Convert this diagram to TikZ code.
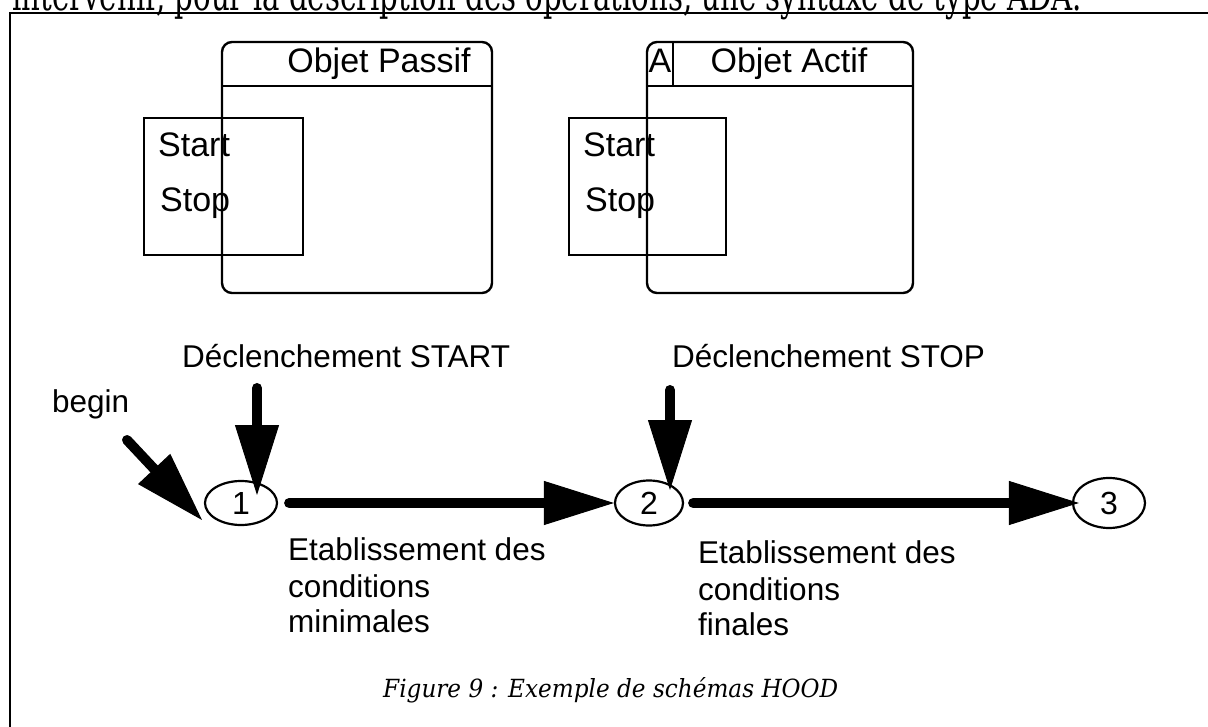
\documentclass[tikz,border=0pt]{standalone}
\usepackage{fontspec}
\usepackage{graphicx}
\usetikzlibrary{arrows.meta,shapes.geometric}
\newfontfamily\cadfont{Liberation Sans}
\newfontfamily\docserif{DejaVu Serif}
\tikzset{
  box/.style={draw, line width=2.4pt, inner sep=0pt},
  objbox/.style={box, rounded corners=10pt},
  sepline/.style={line width=2.4pt},
  lbl/.style={font=\cadfont\fontsize{31.5}{36}\selectfont, inner sep=0pt, anchor=base west},
  biglbl/.style={font=\cadfont\fontsize{34}{40}\selectfont, inner sep=0pt, anchor=base},
  bigleft/.style={biglbl, anchor=base west},
  state/.style={draw, ellipse, line width=2.2pt, inner sep=0pt, font=\cadfont\fontsize{32}{36}\selectfont},
  bigarrow/.style={line width=10pt, line cap=round, -{Triangle[length=70pt,width=44pt,line width=1pt]}},
  frame/.style={line width=2pt}
}
\begin{document}
\begin{tikzpicture}[x=1pt,y=-1pt]
\useasboundingbox (0,0) rectangle (1208,727);
% cut-off text line above the frame
\begin{scope}
  \clip (0,0) rectangle (1208,727);
  \node[anchor=base west, inner sep=0pt] (toptext) at (12,10.5)
    {\resizebox{1070pt}{34pt}{\docserif intervenir, pour la description des opérations, une syntaxe de type ADA.}};
\end{scope}
% frame
\draw[frame] (10,727) -- (10,13) -- (1208,13);

% passive object
\node[objbox, minimum width=270pt, minimum height=251pt] (passif) at (357,167.5) {};
\draw[sepline] (222,86) -- (492,86);
\node[biglbl] (passifname) at (379,73) {Objet Passif};
\node[box, minimum width=159pt, minimum height=137pt] (opsP) at (223.5,186.5) {};
\node[bigleft] (startP) at (158,157) {Start};
\node[bigleft] (stopP) at (160,212) {Stop};

% active object
\node[objbox, minimum width=266pt, minimum height=251pt] (actif) at (780,167.5) {};
\draw[sepline] (647,86) -- (913,86);
\draw[sepline] (673,42) -- (673,86);
\node[biglbl] (amark) at (660,73) {A};
\node[biglbl] (actifname) at (789,73) {Objet Actif};
\node[box, minimum width=157pt, minimum height=137pt] (opsA) at (647.5,186.5) {};
\node[bigleft] (startA) at (583,157) {Start};
\node[bigleft] (stopA) at (585,212) {Stop};

% states
\node[state, minimum width=72pt, minimum height=44pt] (c1) at (241,503) {1};
\node[state, minimum width=68pt, minimum height=45pt] (c2) at (649,503) {2};
\node[state, minimum width=72pt, minimum height=50pt] (c3) at (1109,503) {3};

% labels
\node[lbl] (declstart) at (182,368) {Déclenchement START};
\node[lbl] (declstop) at (672,368) {Déclenchement STOP};
\node[lbl] (begin) at (52,412) {begin};
\node[lbl] (e1a) at (288,560) {Etablissement des};
\node[lbl] (e1b) at (288,597) {conditions};
\node[lbl] (e1c) at (288,632) {minimales};
\node[lbl] (e2a) at (698,563) {Etablissement des};
\node[lbl] (e2b) at (698,600) {conditions};
\node[lbl] (e2c) at (698,635) {finales};

% arrows
\coordinate (beginTail) at (127,440);
\coordinate (beginTip) at (202,520);
\coordinate (startTail) at (257,388);
\coordinate (startTip) at (257,495);
\coordinate (stopTail) at (670,390);
\coordinate (stopTip) at (670,490);
\draw[bigarrow] (beginTail) -- (beginTip);
\draw[bigarrow] (startTail) -- (startTip);
\draw[bigarrow] (stopTail) -- (stopTip);
\draw[bigarrow, shorten <=11pt] (c1.east) -- (c2.west);
\draw[bigarrow, shorten <=9pt, shorten >=-7pt] (c2.east) -- (c3.west);

% caption
\node[anchor=base west, inner sep=0pt] (caption) at (383,697)
  {\resizebox{455pt}{20pt}{\docserif\itshape Figure 9 : Exemple de schémas HOOD}};
\end{tikzpicture}
\end{document}
